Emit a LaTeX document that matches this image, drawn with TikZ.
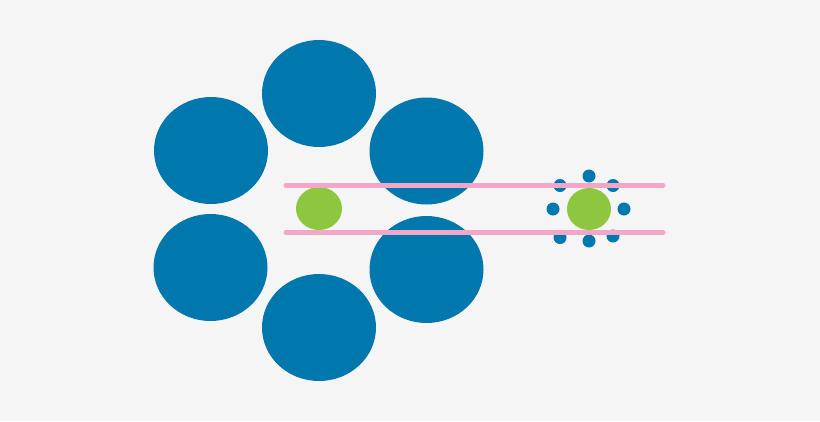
\documentclass[tikz,border=0pt]{standalone}
\begin{document}
\begin{tikzpicture}[x=1pt,y=-1pt,
  bigc/.style={fill=blueC},
  greenc/.style={fill=greenC},
  dotc/.style={fill=blueC},
  pinkline/.style={draw=pinkC,line width=5pt,line cap=round}]
\definecolor{blueC}{HTML}{0077AD}
\definecolor{greenC}{HTML}{8DC63F}
\definecolor{pinkC}{HTML}{F2A7C8}
\definecolor{bgC}{HTML}{F5F5F5}
\fill[bgC] (0,0) rectangle (820,421);
\useasboundingbox (0,0) rectangle (820,421);
% large surrounding circles
\foreach \x/\y in {319/93.5, 211/150.5, 426.5/151, 210.5/267.5, 426.5/269.5, 319/327.5}
  \fill[bigc] (\x,\y) ellipse [x radius=57, y radius=53.5];
% small surrounding dots
\foreach \x/\y in {589/176, 613/185.5, 624/209, 613/236, 589/241, 560/237.5, 553/209, 560/185.5}
  \fill[dotc] (\x,\y) ellipse [x radius=6.5, y radius=6.5];
% green targets
\fill[greenc] (319,208.5) ellipse [x radius=23, y radius=21.5];
\fill[greenc] (589,209) ellipse [x radius=22, y radius=21];
% pink guide lines
\draw[pinkline] (286,185.3) -- (663,185.3);
\draw[pinkline] (286,232.7) -- (663,232.7);
\end{tikzpicture}
\end{document}
